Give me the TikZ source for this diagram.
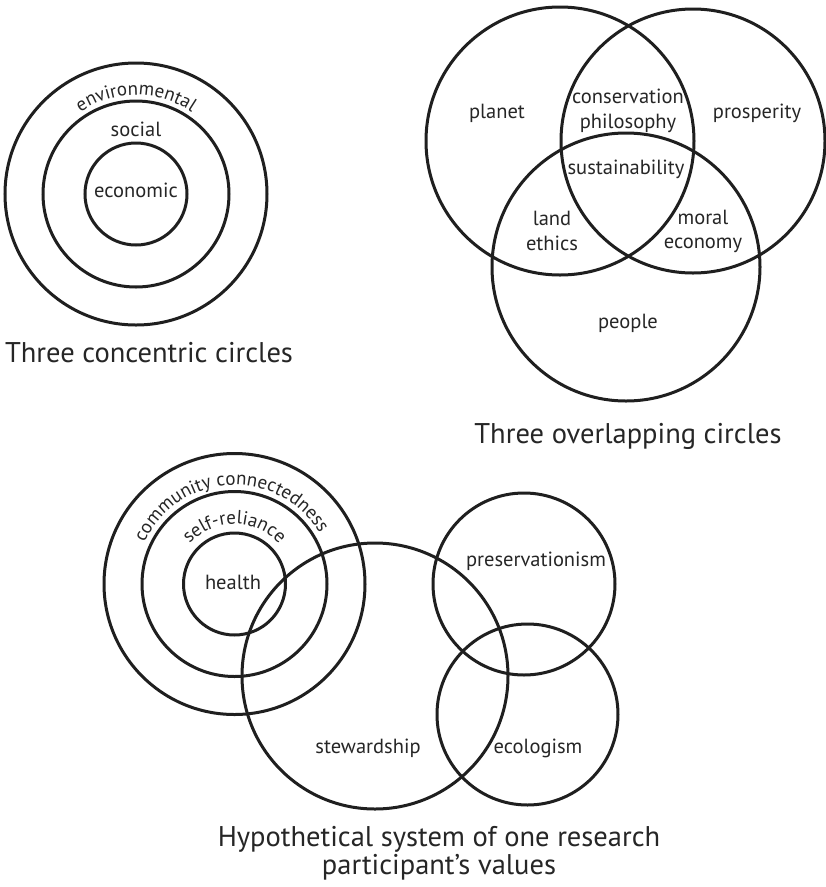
\documentclass[tikz,border=0pt]{standalone}
\usepackage{fontspec}
\setmainfont{PT Sans}
\usetikzlibrary{decorations.text}
\begin{document}
\begin{tikzpicture}[x=1pt,y=-1pt,
  ring/.style={draw=black!88, line width=3pt},
  lab/.style={font=\fontsize{20.5}{24}\selectfont, inner sep=0pt, anchor=base, text=black!85},
  captext/.style={font=\fontsize{28.5}{32}\selectfont, inner sep=0pt, anchor=base, text=black!85},
  arctext/.style={decorate, decoration={text along path, text align=center, text color=black!85}}]
\useasboundingbox (0,0) rectangle (826,887);
\fill[white] (0,0) rectangle (826,887);

% ---------- Three concentric circles ----------
\coordinate (A) at (136,194);
\draw[ring] (A) circle[radius=131pt];
\draw[ring] (A) circle[radius=93pt];
\draw[ring] (A) circle[radius=51pt];
\path[arctext, decoration={text={|\fontsize{19}{22}\selectfont|environmental}}]
  (A) ++(-150:99) arc[start angle=-150, end angle=-30, radius=99];
\node[lab] (social) at (136,136) {social};
\node[lab] (economic) at (136,197) {economic};
\node[captext] (cap1) at (149,362) {Three concentric circles};

% ---------- Three overlapping circles ----------
\draw[ring] (560,141) circle[radius=134pt];
\draw[ring] (693,141) circle[radius=132pt];
\draw[ring] (626,267) circle[radius=134pt];
\node[lab] (planet) at (497,118) {planet};
\node[lab] (cons1) at (628,103) {conservation};
\node[lab] (cons2) at (628,128) {philosophy};
\node[lab] (prosperity) at (757,118) {prosperity};
\node[lab] (sustain) at (626,174) {sustainability};
\node[lab] (land1) at (552,225) {land};
\node[lab] (land2) at (552,250) {ethics};
\node[lab] (moral1) at (703,224) {moral};
\node[lab] (moral2) at (703,248) {economy};
\node[lab] (people) at (628,328) {people};
\node[captext] (cap2) at (628,443) {Three overlapping circles};

% ---------- Hypothetical system ----------
\coordinate (B) at (234.5,584);
\draw[ring] (B) circle[radius=130.5pt];
\draw[ring] (B) circle[radius=92.5pt];
\draw[ring] (B) circle[radius=51pt];
\draw[ring] (375,676) circle[radius=133pt];
\draw[ring] (524,584) circle[radius=91pt];
\draw[ring] (527.5,714.5) circle[radius=90.5pt];
\path[arctext, decoration={text={|\fontsize{19}{22}\selectfont|community connectedness}}]
  (B) ++(-175:99) arc[start angle=-175, end angle=-11, radius=99];
\path[arctext, decoration={text={|\fontsize{19}{22}\selectfont|self-reliance}}]
  (B) ++(-170:60) arc[start angle=-170, end angle=-10, radius=60];
\node[lab] (health) at (233,589) {health};
\node[lab] (preserv) at (536,566) {preservationism};
\node[lab] (steward) at (368,753) {stewardship};
\node[lab] (ecolog) at (538,753) {ecologism};
\node[captext] (cap3a) at (439,846) {Hypothetical system of one research};
\node[captext] (cap3b) at (439,874) {participant’s values};
\end{tikzpicture}
\end{document}
